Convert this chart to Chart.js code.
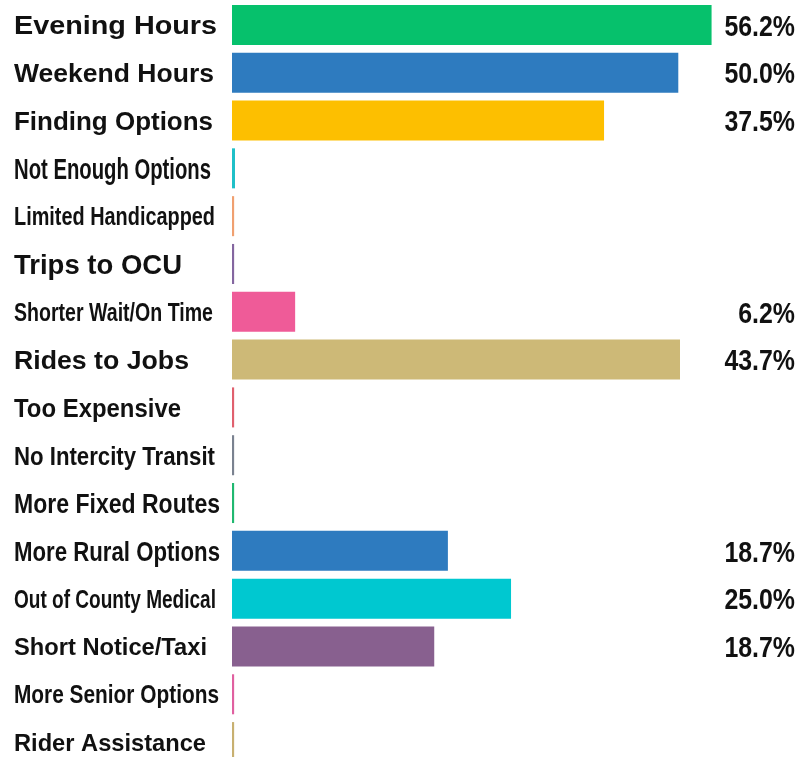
<!DOCTYPE html>
<html>
<head>
<meta charset="utf-8">
<title>Transit needs</title>
<script src="https://cdn.jsdelivr.net/npm/chart.js@4.4.0/dist/chart.umd.min.js"></script>
<style>
  html, body { margin: 0; padding: 0; background: #fff; overflow: hidden; }
  #wrap { width: 800px; height: 765px; margin-top: 1px; }
</style>
</head>
<body>
<div id="wrap"><canvas id="needsChart"></canvas></div>
<script>
// categories, top to bottom
const categories = [
  'Evening Hours', 'Weekend Hours', 'Finding Options', 'Not Enough Options',
  'Limited Handicapped', 'Trips to OCU', 'Shorter Wait/On Time', 'Rides to Jobs',
  'Too Expensive', 'No Intercity Transit', 'More Fixed Routes', 'More Rural Options',
  'Out of County Medical', 'Short Notice/Taxi', 'More Senior Options', 'Rider Assistance'
];

// bar lengths as drawn (percent scale), the near-zero ones are just slivers
const barValues = [56.2, 52.3, 43.6, 0.35, 0.25, 0.25, 7.4, 52.5, 0.25, 0.25, 0.25, 25.3, 32.7, 23.7, 0.25, 0.25];

// printed percentages beside the bars
const valueLabels = ['56.2%', '50.0%', '37.5%', '', '', '', '6.2%', '43.7%', '', '', '', '18.7%', '25.0%', '18.7%', '', ''];

const barColors = [
  '#06c16c', '#2e7bbf', '#fdbf00', '#1fc0c8', '#f0a070', '#8466a0', '#ef5b98', '#cdb977',
  '#e0606e', '#7a8290', '#20b870', '#2e7bbf', '#00c8d0', '#88608f', '#e060a0', '#c8b070'
];

// label look: font size and the width each label is squeezed/stretched to
const labelSize = [26.5, 25.5, 26.5, 29, 25, 28, 26.5, 26.5, 26.5, 26.5, 27.5, 27, 25, 24.5, 25, 24];
const labelWidth = [203, 200, 199, 197, 201, 168, 199, 175, 167, 201, 206, 206, 202, 193, 205, 192];

const FONT = '"Liberation Sans", Arial, sans-serif';

// draws text horizontally scaled to a width, vertically centred on the cap height
function drawFitted(ctx, text, x, y, size, width, align) {
  ctx.font = 'bold ' + size + 'px ' + FONT;
  const natural = ctx.measureText(text).width;
  const sx = width / natural;
  ctx.save();
  ctx.translate(x, y + size * 0.716 / 2);
  ctx.scale(sx, 1);
  ctx.textAlign = align;
  ctx.textBaseline = 'alphabetic';
  ctx.fillText(text, 0, 0);
  ctx.restore();
}

const labelPlugin = {
  id: 'sideLabels',
  afterDatasetsDraw(chart) {
    const ctx = chart.ctx;
    const yScale = chart.scales.y;
    ctx.save();
    ctx.fillStyle = '#111';
    categories.forEach((name, i) => {
      const y = yScale.getPixelForValue(i);
      drawFitted(ctx, name, 14, y, labelSize[i], labelWidth[i], 'left');
    });
    valueLabels.forEach((txt, i) => {
      if (!txt) return;
      const y = yScale.getPixelForValue(i);
      ctx.font = 'bold 30px ' + FONT;
      drawFitted(ctx, txt, 795, y, 30, ctx.measureText(txt).width * 0.83, 'right');
    });
    ctx.restore();
  }
};

const ctx = document.getElementById('needsChart').getContext('2d');
new Chart(ctx, {
  type: 'bar',
  data: {
    labels: categories,
    datasets: [{
      data: barValues,
      backgroundColor: barColors,
      borderWidth: 0,
      categoryPercentage: 1,
      barPercentage: 0.837
    }]
  },
  options: {
    indexAxis: 'y',
    responsive: true,
    maintainAspectRatio: false,
    animation: false,
    layout: { padding: { left: 232, right: 56, top: 0, bottom: 0 } },
    plugins: {
      legend: { display: false },
      tooltip: { enabled: false }
    },
    scales: {
      x: { display: false, min: 0, max: 60 },
      y: { display: false }
    }
  },
  plugins: [labelPlugin]
});
</script>
</body>
</html>
